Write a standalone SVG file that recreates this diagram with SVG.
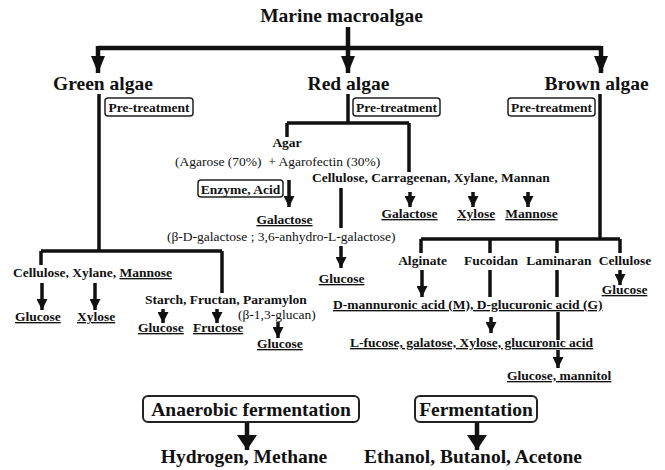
<svg xmlns="http://www.w3.org/2000/svg" width="665" height="470" viewBox="0 0 665 470">
<style>
text{font-family:"Liberation Serif","Times New Roman",serif;font-weight:bold;font-size:13.5px;fill:#111}
.big{font-size:19.5px}
.norm{font-weight:normal}
.ul{text-decoration:underline}
.mid{text-anchor:middle}
.ln{fill:none;stroke:#111;stroke-width:3.5}
.thick{stroke-width:4.5}
.box{fill:#fff;stroke:#222;stroke-width:1.5}
.bbox{fill:#fff;stroke:#222;stroke-width:2}
</style>
<defs>
<marker id="ahL" markerUnits="userSpaceOnUse" markerWidth="17" markerHeight="14" refX="17" refY="7" orient="auto"><path d="M0,0 L17,7 L0,14 z" fill="#111"/></marker>
<marker id="ahS" markerUnits="userSpaceOnUse" markerWidth="11" markerHeight="11" refX="11" refY="5.5" orient="auto"><path d="M0,0 L11,5.5 L0,11 z" fill="#111"/></marker>
<marker id="ahB" markerUnits="userSpaceOnUse" markerWidth="15" markerHeight="20" refX="15" refY="10" orient="auto"><path d="M0,0 L15,10 L0,20 z" fill="#111"/></marker>
</defs>
<g id="connectors">
<path class="ln thick" d="M348,27 V73" marker-end="url(#ahL)"/>
<path class="ln thick" d="M98,48 H601"/>
<path class="ln thick" d="M98,46 V73" marker-end="url(#ahL)"/>
<path class="ln thick" d="M601,46 V73" marker-end="url(#ahL)"/>
<path class="ln" d="M99,94 V251 M41,251 H222 M41,251 V265 M222,251 V293"/>
<path class="ln" d="M42,283 V310" marker-end="url(#ahS)"/>
<path class="ln" d="M95,283 V310" marker-end="url(#ahS)"/>
<path class="ln" d="M163,309 V323" marker-end="url(#ahS)"/>
<path class="ln" d="M217,309 V323" marker-end="url(#ahS)"/>
<path class="ln" d="M278,322 V338" marker-end="url(#ahS)"/>
<path class="ln" d="M348,94 V123 M287,123 H409 M287,123 V137 M409,123 V172"/>
<path class="ln" d="M289,180 V207" marker-end="url(#ahS)"/>
<path class="ln" d="M341,188 V228"/>
<path class="ln" d="M341,246 V268" marker-end="url(#ahS)"/>
<path class="ln" d="M410,192 V207" marker-end="url(#ahS)"/>
<path class="ln" d="M473,192 V207" marker-end="url(#ahS)"/>
<path class="ln" d="M528,192 V207" marker-end="url(#ahS)"/>
<path class="ln" d="M600,94 V239 M421,239 H620 M421,239 V253 M490,239 V253 M557,239 V253 M620,239 V253"/>
<path class="ln" d="M422,270 V297" marker-end="url(#ahS)"/>
<path class="ln" d="M490,270 V297 M557,270 V297"/>
<path class="ln" d="M620,270 V285" marker-end="url(#ahS)"/>
<path class="ln" d="M491,317 V333" marker-end="url(#ahS)"/>
<path class="ln" d="M558,312 V340"/>
<path class="ln" d="M558,350 V368" marker-end="url(#ahS)"/>
<path class="ln thick" d="M247,422 V450" marker-end="url(#ahB)"/>
<path class="ln thick" d="M477,422 V450" marker-end="url(#ahB)"/>
</g>
<g id="marine"><text class="big mid" x="341.5" y="22">Marine macroalgae</text></g>
<g id="green"><text class="big mid" x="103" y="90">Green algae</text></g>
<g id="red"><text class="big mid" x="348.5" y="90">Red algae</text></g>
<g id="brown"><text class="big mid" x="596.5" y="90">Brown algae</text></g>
<g id="pre-green"><rect class="box" x="105" y="98" width="88" height="18" rx="3"/><text class="mid" x="149" y="112">Pre-treatment</text></g>
<g id="pre-red"><rect class="box" x="353" y="98" width="87" height="18" rx="3"/><text class="mid" x="396.5" y="112">Pre-treatment</text></g>
<g id="pre-brown"><rect class="box" x="508" y="98" width="87" height="18" rx="3"/><text class="mid" x="551.5" y="112">Pre-treatment</text></g>
<g id="agar"><text class="mid" x="287" y="147">Agar</text><text class="norm" x="175" y="166" style="white-space:pre">(Agarose (70%)  + Agarofectin (30%)</text></g>
<g id="red-poly"><text x="312" y="182">Cellulose, Carrageenan, Xylane, Mannan</text></g>
<g id="enzyme"><rect class="box" x="198" y="180" width="85" height="17" rx="3"/><text class="mid" x="240.5" y="194">Enzyme, Acid</text></g>
<g id="galactose-agar"><text class="mid ul" x="284.5" y="224">Galactose</text><text class="norm" x="167" y="241">(β-D-galactose ; 3,6-anhydro-L-galactose)</text></g>
<g id="glucose-red"><text class="mid ul" x="341.5" y="283">Glucose</text></g>
<g id="red-sugars"><text class="mid ul" x="409.5" y="218">Galactose</text><text class="mid ul" x="476" y="218">Xylose</text><text class="mid ul" x="531.5" y="218">Mannose</text></g>
<g id="green-poly1"><text x="13" y="277">Cellulose, Xylane, <tspan class="ul">Mannose</tspan></text><text class="ul" x="15" y="321">Glucose</text><text class="ul" x="77" y="321">Xylose</text></g>
<g id="green-poly2"><text x="145" y="304">Starch, Fructan, Paramylon</text><text class="norm" x="238" y="318.5">(β-1,3-glucan)</text><text class="ul" x="138" y="332">Glucose</text><text class="ul" x="193" y="332">Fructose</text><text class="ul" x="257" y="348">Glucose</text></g>
<g id="brown-poly"><text class="mid" x="422.5" y="265">Alginate</text><text class="mid" x="491" y="265">Fucoidan</text><text class="mid" x="559" y="265">Laminaran</text><text class="mid" x="625" y="265">Cellulose</text><text class="mid ul" x="624.5" y="294">Glucose</text></g>
<g id="mannuronic"><text class="ul" x="333" y="309">D-mannuronic acid (M), D-glucuronic acid (G)</text></g>
<g id="fucose"><text class="ul" x="350" y="347">L-fucose, galatose, Xylose, glucuronic acid</text></g>
<g id="glucose-mannitol"><text class="ul" x="507" y="380">Glucose, mannitol</text></g>
<g id="anaerobic"><rect class="bbox" x="143" y="396" width="216" height="26" rx="5"/><text class="big mid" x="251" y="416">Anaerobic fermentation</text></g>
<g id="fermentation"><rect class="bbox" x="415" y="396" width="122" height="26" rx="5"/><text class="big mid" x="476" y="416">Fermentation</text></g>
<g id="hydrogen"><text class="big mid" x="244" y="463">Hydrogen, Methane</text></g>
<g id="ethanol"><text class="big mid" x="473" y="463">Ethanol, Butanol, Acetone</text></g>
</svg>
